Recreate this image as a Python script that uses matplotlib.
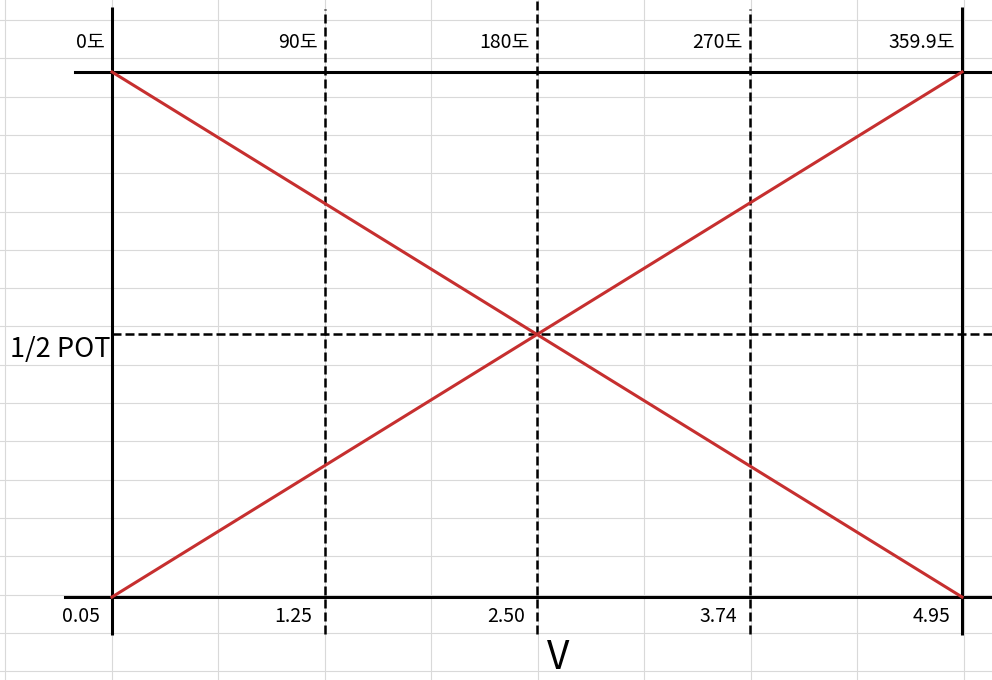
import matplotlib
matplotlib.use('Agg')
import matplotlib.pyplot as plt
import numpy as np

plt.rcParams['font.family'] = ['Noto Sans CJK KR', 'DejaVu Sans']

# values
angle_labels = ['0도', '90도', '180도', '270도', '359.9도']
volt_labels = ['0.05', '1.25', '2.50', '3.74', '4.95']
pot_rising = [0.0, 0.25, 0.5, 0.75, 1.0]
pot_falling = [1.0, 0.75, 0.5, 0.25, 0.0]
half_pot = 0.5

pos = np.arange(len(volt_labels))

fig = plt.figure(figsize=(9.92, 6.8), dpi=100)

# spreadsheet cell grid behind everything (pixel coords)
bg = fig.add_axes([0, 0, 1, 1])
bg.set_xlim(0, 992)
bg.set_ylim(680, 0)
bg.axis('off')
for gx in np.arange(5, 992, 106.5):
    bg.axvline(gx, color='#d9d9d9', lw=0.8)
for gy in np.arange(20, 680, 38.3):
    bg.axhline(gy, color='#d9d9d9', lw=0.8)

ax = fig.add_axes([0, 0, 1, 1])
ax.patch.set_alpha(0)
ax.axis('off')
ax.set_xlim(-0.527, 4.141)
ax.set_ylim(-0.158, 1.137)

dash = (0, (3.6, 1.6))
# vertical markers
for i in pos:
    if i in (0, len(pos) - 1):
        ax.plot([i, i], [-0.072, 1.124], color='black', lw=2.2, solid_capstyle='butt')
    else:
        top = 1.137 if i == 2 else 1.12
        ax.plot([i, i], [-0.07, top], color='black', lw=1.8, linestyle=dash)

# horizontal lines
ax.plot([-0.174, 4.2], [1, 1], color='black', lw=2.2)
ax.plot([-0.221, 4.2], [0, 0], color='black', lw=2.2)
ax.plot([0, 4.2], [half_pot, half_pot], color='black', lw=1.8, linestyle=dash)

# pot output lines
ax.plot(pos, pot_falling, color='#c62f2f', lw=2.2, zorder=5)
ax.plot(pos, pot_rising, color='#c62f2f', lw=2.2, zorder=5)

for i, lab in zip(pos, angle_labels):
    ax.annotate(lab, xy=(i, 1), xytext=(-7, 24), textcoords='offset pixels',
                ha='right', va='baseline', fontsize=14)
for i, lab in zip(pos, volt_labels):
    ax.annotate(lab, xy=(i, 0), xytext=(-12, -25), textcoords='offset pixels',
                ha='right', va='baseline', fontsize=14)

ax.annotate('1/2 POT', xy=(0, half_pot), xytext=(-1, -23), textcoords='offset pixels',
            ha='right', va='baseline', fontsize=19.5)
ax.annotate('V', xy=(2, 0), xytext=(21, -81), textcoords='offset pixels',
            ha='center', va='bottom', fontsize=28)

fig.savefig('out.png', dpi=100)
plt.close(fig)
